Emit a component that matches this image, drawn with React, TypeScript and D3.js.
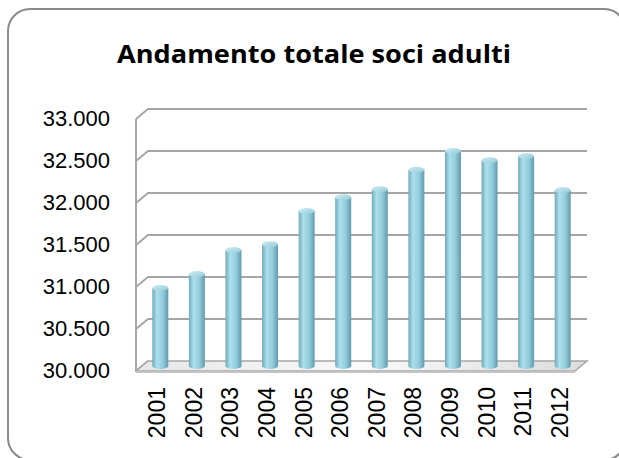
import * as d3 from 'd3';

const years = ['2001', '2002', '2003', '2004', '2005', '2006', '2007', '2008', '2009', '2010', '2011', '2012'];
const soci = [30930, 31095, 31380, 31450, 31845, 32010, 32105, 32335, 32560, 32450, 32500, 32095];
const yTicks = [30000, 30500, 31000, 31500, 32000, 32500, 33000];

const W = 619;
const H = 458;
// depth of the 3D box (back wall vs front plane)
const DX = 12;
const DY = 10;

const fmt = (v: number) => d3.format(',.0f')(v).replace(/,/g, '.');

const App = () => {
    const x = d3.scaleBand<string>()
        .domain(years)
        .range([148, 587])
        .paddingInner(0);

    const y = d3.scaleLinear()
        .domain([30000, 33000])
        .range([361, 109]);

    const barW = 16;
    const capRy = 3;
    const floorY = y(30000);

    return (
        <svg width={W} height={H} style={{ position: 'absolute', left: 0, top: 0 }}>
            <defs>
                <linearGradient id="cyl" x1="0" x2="1" y1="0" y2="0">
                    <stop offset="0" stopColor="#72aabc" />
                    <stop offset="0.3" stopColor="#ace0ec" />
                    <stop offset="0.65" stopColor="#94cddc" />
                    <stop offset="1" stopColor="#609bae" />
                </linearGradient>
                <linearGradient id="cap" x1="0" x2="1" y1="0" y2="1">
                    <stop offset="0" stopColor="#cdeef5" />
                    <stop offset="1" stopColor="#94c9d8" />
                </linearGradient>
                <linearGradient id="floor" x1="0" x2="1" y1="0" y2="0">
                    <stop offset="0" stopColor="#e6e6e6" />
                    <stop offset="0.5" stopColor="#fafafa" />
                    <stop offset="1" stopColor="#dcdcdc" />
                </linearGradient>
            </defs>

            <rect x={8} y={9} width={618} height={451} rx={22} ry={22}
                fill="#ffffff" stroke="#8a8a8a" strokeWidth={2} />

            <text x={314} y={63} textAnchor="middle" fontFamily="'Open Sans', sans-serif"
                fontWeight="bold" fontSize={25} textLength={394} lengthAdjust="spacingAndGlyphs"
                fill="#000">Andamento totale soci adulti</text>

            {/* walls and gridlines */}
            <line x1={136} x2={136} y1={y(33000) + DY} y2={floorY + DY} stroke="#a6a6a6" strokeWidth={2} />
            {yTicks.map(t => (
                <g key={t}>
                    <polyline
                        points={`136,${y(t) + DY} 148,${y(t)} ${t === 30000 ? 148 : 587},${y(t)}`}
                        fill="none" stroke="#a6a6a6" strokeWidth={2} />
                    <text x={110} y={y(t) + DY + 7} textAnchor="end"
                        fontFamily="'Liberation Sans', Arial, sans-serif" fontSize={22} fill="#000">
                        {fmt(t)}
                    </text>
                </g>
            ))}

            {/* floor slab */}
            <polygon
                points={`148,${floorY} 587,${floorY} ${587 - DX},${floorY + DY} 136,${floorY + DY}`}
                fill="url(#floor)" stroke="#a6a6a6" strokeWidth={1.5} />
            <rect x={136} y={floorY + DY} width={587 - DX - 136} height={2} fill="#c4c4c4" />

            {/* cylinders */}
            {soci.map((v, i) => {
                const cx = x(years[i])! + x.bandwidth() / 2 - DX / 2;
                const top = y(v) + DY / 2;
                const base = floorY + DY / 2;
                return (
                    <g key={years[i]}>
                        <path
                            d={`M${cx - barW / 2},${top} L${cx - barW / 2},${base} A${barW / 2},${capRy} 0 0 0 ${cx + barW / 2},${base} L${cx + barW / 2},${top} Z`}
                            fill="url(#cyl)" />
                        <ellipse cx={cx} cy={top} rx={barW / 2} ry={capRy} fill="url(#cap)" />
                    </g>
                );
            })}

            {/* category labels */}
            {years.map(yr => {
                const lx = x(yr)! + x.bandwidth() / 2 - 9;
                return (
                    <text key={yr} transform={`translate(${lx + 8},387) rotate(-90)`} textAnchor="end"
                        fontFamily="'Liberation Sans', Arial, sans-serif" fontSize={23} fill="#000">
                        {yr}
                    </text>
                );
            })}
        </svg>
    );
};

export default App;
